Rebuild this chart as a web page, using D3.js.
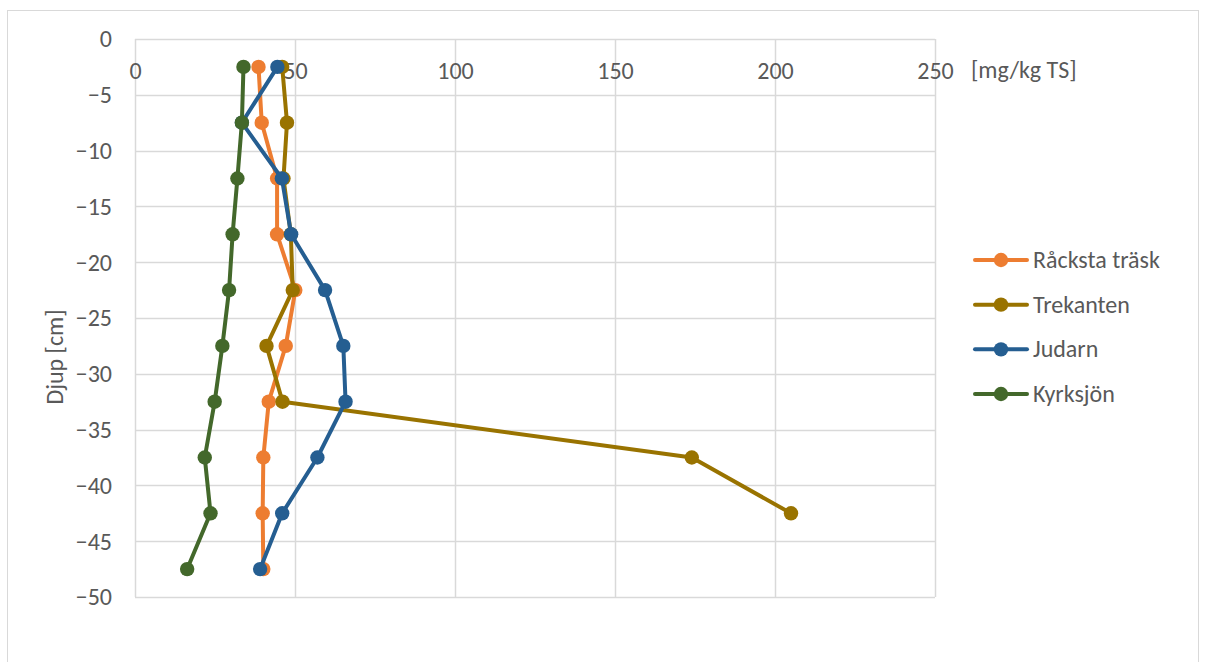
<!DOCTYPE html>
<html><head><meta charset="utf-8">
<script src="https://cdn.jsdelivr.net/npm/d3@7/dist/d3.min.js"></script>
<style>body{margin:0;background:#fff;}svg text{font-family:Carlito,"Open Sans","Noto Sans",sans-serif;fill:#595959;}</style>
</head><body><svg id="c" width="1206" height="662"></svg>
<script>
const depths = [-2.5,-7.5,-12.5,-17.5,-22.5,-27.5,-32.5,-37.5,-42.5,-47.5];
const seriesNames = ["Råcksta träsk","Trekanten","Judarn","Kyrksjön"];
const rackstaTrask = [38.6,39.6,44.4,44.4,50.1,47.1,41.8,40.1,39.9,40.1];
const trekanten = [46.0,47.5,46.4,48.7,49.3,41.1,46.1,174,205,null];
const judarn = [44.5,33.4,45.9,48.8,59.4,65.1,65.8,57.0,46.0,39.1];
const kyrksjon = [33.9,33.4,32.0,30.5,29.4,27.3,24.9,21.8,23.6,16.3];
const colors = ["#ED7D31","#997300","#255E91","#43682B"];
const xTicks = [0,50,100,150,200,250];
const yTicks = [0,-5,-10,-15,-20,-25,-30,-35,-40,-45,-50];
const FS = 24;

const svg = d3.select("#c");
svg.append("rect").attr("x",7.5).attr("y",10.5).attr("width",1191).attr("height",700)
  .attr("fill","none").attr("stroke","#d9d9d9");

const x = d3.scaleLinear().domain([0,250]).range([135,935]);
const y = d3.scaleLinear().domain([0,-50]).range([39,597]);

const g = svg.append("g");
g.selectAll(".hg").data(yTicks).join("line")
  .attr("x1",x(0)).attr("x2",x(250)).attr("y1",d=>Math.round(y(d))+0.5).attr("y2",d=>Math.round(y(d))+0.5)
  .attr("stroke","#d9d9d9").attr("stroke-width",1.5);
g.selectAll(".vg").data(xTicks).join("line")
  .attr("y1",y(0)).attr("y2",y(-50)).attr("x1",d=>Math.round(x(d))+0.5).attr("x2",d=>Math.round(x(d))+0.5)
  .attr("stroke","#d9d9d9").attr("stroke-width",1.5);

const yAxis = svg.append("g").attr("transform","translate(112,0)")
  .call(d3.axisLeft(y).tickValues(yTicks).tickSize(0).tickPadding(0).tickFormat(d3.format("d")));
yAxis.select(".domain").remove();
yAxis.selectAll("text").attr("font-size",FS).attr("dy","0.33em").attr("font-family",null).attr("fill",null);

const xAxis = svg.append("g").attr("transform","translate(0,71)")
  .call(d3.axisBottom(x).tickValues(xTicks).tickSize(0).tickPadding(0).tickFormat(d3.format("d")));
xAxis.select(".domain").remove();
xAxis.selectAll("text").attr("font-size",FS).attr("font-family",null).attr("fill",null).attr("y",0).attr("dy","0.33em");

svg.append("text").attr("x",971).attr("y",70).attr("dy","0.33em").attr("font-size",FS).text("[mg/kg TS]");
svg.append("text").attr("transform","translate(55,357) rotate(-90)").attr("text-anchor","middle")
  .attr("dy","0.33em").attr("font-size",FS).text("Djup [cm]");

const allSeries = [rackstaTrask,trekanten,judarn,kyrksjon];
const line = d3.line().x(d=>x(d[0])).y(d=>y(d[1]));
allSeries.forEach((vals,i)=>{
  const pts = vals.map((v,j)=>[v,depths[j]]).filter(p=>p[0]!=null);
  svg.append("path").datum(pts).attr("d",line).attr("fill","none")
    .attr("stroke",colors[i]).attr("stroke-width",4).attr("stroke-linejoin","round").attr("stroke-linecap","round");
  svg.append("g").selectAll("circle").data(pts).join("circle")
    .attr("cx",d=>x(d[0])).attr("cy",d=>y(d[1])).attr("r",7.2).attr("fill",colors[i]);
});

const legY = d3.scalePoint().domain(seriesNames).range([260,394]);
const leg = svg.append("g");
seriesNames.forEach((n,i)=>{
  const yy = legY(n);
  leg.append("line").attr("x1",975).attr("x2",1027).attr("y1",yy).attr("y2",yy)
    .attr("stroke",colors[i]).attr("stroke-width",4).attr("stroke-linecap","round");
  leg.append("circle").attr("cx",1001).attr("cy",yy).attr("r",7.2).attr("fill",colors[i]);
  leg.append("text").attr("x",1033).attr("y",yy).attr("dy","0.33em").attr("font-size",FS).text(n);
});
</script></body></html>
